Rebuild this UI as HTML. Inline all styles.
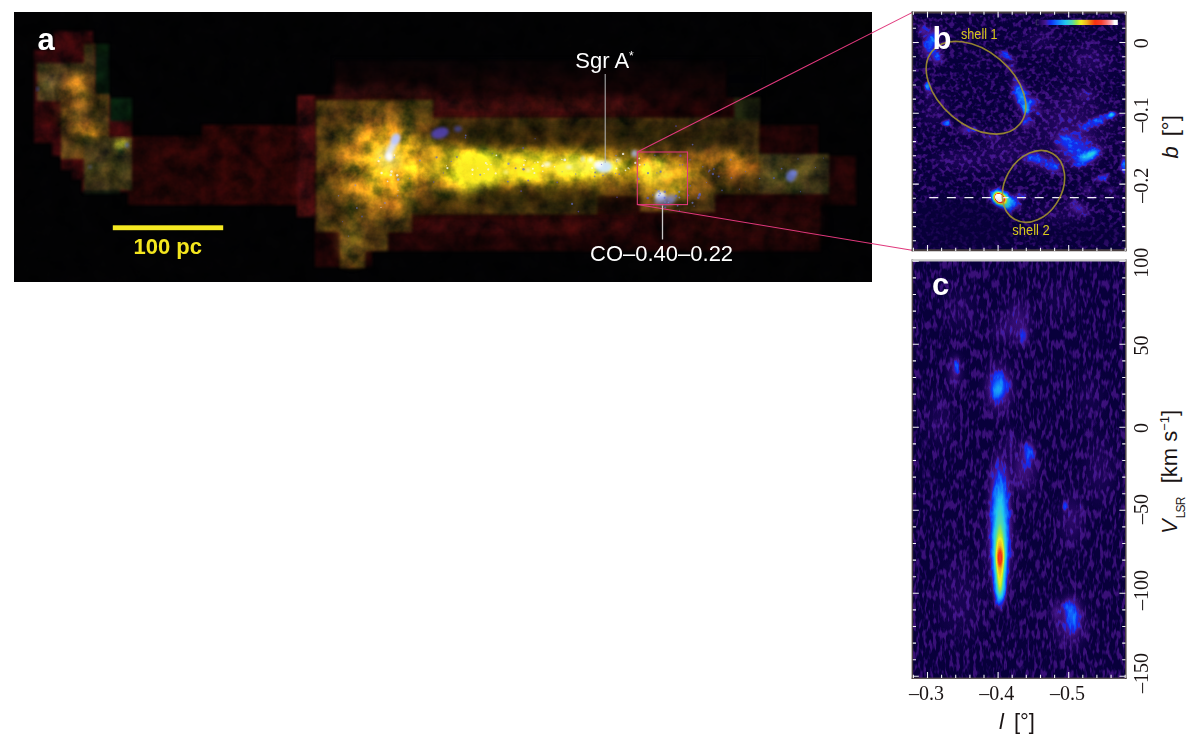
<!DOCTYPE html>
<html><head><meta charset="utf-8"><title>Figure</title>
<style>html,body{margin:0;padding:0;background:#fff;overflow:hidden}svg{display:block;position:absolute;left:0;top:0}text{font-family:"Liberation Sans",sans-serif}.se{font-family:"Liberation Serif",serif;font-size:20px;fill:#1a1414}.sa{font-family:"Liberation Sans",sans-serif;fill:#1a1414}</style></head><body>
<svg width="1199" height="750" viewBox="0 0 1199 750" color-interpolation-filters="sRGB">
<defs>
<clipPath id="ca"><rect x="14.3" y="12.7" width="857.7" height="269.1"/></clipPath>
<clipPath id="cb"><rect x="912.5" y="12.5" width="213" height="238"/></clipPath>
<clipPath id="cc"><rect x="912.5" y="260.5" width="213" height="417.5"/></clipPath>
<linearGradient id="cbar" x1="0" x2="1" y1="0" y2="0">
<stop offset="0.0" stop-color="rgb(9,0,60)"/>
<stop offset="0.045" stop-color="rgb(32,6,92)"/>
<stop offset="0.09" stop-color="rgb(60,17,122)"/>
<stop offset="0.12" stop-color="rgb(70,26,150)"/>
<stop offset="0.15" stop-color="rgb(42,36,208)"/>
<stop offset="0.18" stop-color="rgb(16,44,240)"/>
<stop offset="0.25" stop-color="rgb(16,110,255)"/>
<stop offset="0.36" stop-color="rgb(32,200,240)"/>
<stop offset="0.44" stop-color="rgb(80,216,176)"/>
<stop offset="0.5" stop-color="rgb(160,232,64)"/>
<stop offset="0.55" stop-color="rgb(240,240,32)"/>
<stop offset="0.62" stop-color="rgb(240,176,32)"/>
<stop offset="0.67" stop-color="rgb(240,112,16)"/>
<stop offset="0.72" stop-color="rgb(248,48,16)"/>
<stop offset="0.8" stop-color="rgb(248,64,48)"/>
<stop offset="0.86" stop-color="rgb(248,112,112)"/>
<stop offset="0.92" stop-color="rgb(248,176,192)"/>
<stop offset="0.96" stop-color="rgb(255,255,255)"/>
<stop offset="1.0" stop-color="rgb(255,255,255)"/>
</linearGradient>
<radialGradient id="g"><stop offset="0" stop-color="#fff" stop-opacity="1"/><stop offset="0.25" stop-color="#fff" stop-opacity="0.8"/><stop offset="0.5" stop-color="#fff" stop-opacity="0.42"/><stop offset="0.75" stop-color="#fff" stop-opacity="0.12"/><stop offset="1" stop-color="#fff" stop-opacity="0"/></radialGradient>
<filter id="fb" filterUnits="userSpaceOnUse" x="912" y="11" width="215" height="241">
<feTurbulence type="fractalNoise" baseFrequency="0.22 0.22" numOctaves="2" seed="7" result="t"/>
<feColorMatrix in="t" type="matrix" values="4.773 0 0 0 -2.273  4.773 0 0 0 -2.273  4.773 0 0 0 -2.273  0 0 0 0 1" result="n0"/>
<feComponentTransfer in="n0" result="n"><feFuncR type="linear" slope="0.088"/><feFuncG type="linear" slope="0.088"/><feFuncB type="linear" slope="0.088"/></feComponentTransfer>
<feComponentTransfer in="SourceGraphic" result="m"><feFuncR type="linear" slope="-1.2" intercept="1"/><feFuncG type="linear" slope="-1.2" intercept="1"/><feFuncB type="linear" slope="-1.2" intercept="1"/></feComponentTransfer>
<feComposite in="m" in2="n" operator="arithmetic" k1="1" k2="0" k3="0" k4="0" result="nm"/>
<feComposite in="SourceGraphic" in2="nm" operator="arithmetic" k1="0" k2="1" k3="1" k4="0" result="s"/>
<feComponentTransfer in="s"><feFuncR type="table" tableValues="0.035 0.055 0.075 0.095 0.115 0.138 0.162 0.186 0.211 0.235 0.248 0.261 0.275 0.238 0.201 0.165 0.131 0.097 0.063 0.063 0.063 0.063 0.063 0.063 0.063 0.063 0.068 0.074 0.080 0.086 0.091 0.097 0.103 0.108 0.114 0.120 0.125 0.149 0.173 0.196 0.220 0.243 0.267 0.290 0.314 0.366 0.418 0.471 0.523 0.575 0.627 0.690 0.753 0.816 0.878 0.941 0.941 0.941 0.941 0.941 0.941 0.941 0.941 0.941 0.941 0.941 0.941 0.941 0.947 0.954 0.960 0.966 0.973 0.973 0.973 0.973 0.973 0.973 0.973 0.973 0.973 0.973 0.973 0.973 0.973 0.973 0.973 0.973 0.973 0.973 0.973 0.973 0.973 0.979 0.986 0.993 1.000 1.000 1.000 1.000 1.000"/><feFuncG type="table" tableValues="0.000 0.005 0.010 0.016 0.021 0.028 0.038 0.047 0.057 0.067 0.078 0.090 0.102 0.115 0.128 0.141 0.152 0.162 0.173 0.210 0.246 0.283 0.320 0.357 0.394 0.431 0.463 0.496 0.528 0.560 0.592 0.624 0.656 0.688 0.720 0.752 0.784 0.792 0.800 0.808 0.816 0.824 0.831 0.839 0.847 0.858 0.868 0.878 0.889 0.899 0.910 0.916 0.922 0.929 0.935 0.941 0.905 0.869 0.834 0.798 0.762 0.726 0.690 0.640 0.590 0.540 0.489 0.439 0.389 0.339 0.289 0.238 0.188 0.196 0.204 0.212 0.220 0.227 0.235 0.243 0.251 0.282 0.314 0.345 0.376 0.408 0.439 0.481 0.523 0.565 0.607 0.648 0.690 0.768 0.845 0.923 1.000 1.000 1.000 1.000 1.000"/><feFuncB type="table" tableValues="0.235 0.263 0.291 0.319 0.347 0.374 0.400 0.426 0.452 0.478 0.515 0.552 0.588 0.664 0.740 0.816 0.858 0.899 0.941 0.950 0.958 0.966 0.975 0.983 0.992 1.000 0.995 0.989 0.984 0.979 0.973 0.968 0.963 0.957 0.952 0.947 0.941 0.910 0.878 0.847 0.816 0.784 0.753 0.722 0.690 0.617 0.544 0.471 0.397 0.324 0.251 0.226 0.201 0.176 0.151 0.125 0.125 0.125 0.125 0.125 0.125 0.125 0.125 0.113 0.100 0.088 0.075 0.063 0.063 0.063 0.063 0.063 0.063 0.078 0.094 0.110 0.125 0.141 0.157 0.173 0.188 0.230 0.272 0.314 0.356 0.397 0.439 0.492 0.544 0.596 0.648 0.701 0.753 0.815 0.876 0.938 1.000 1.000 1.000 1.000 1.000"/><feFuncA type="linear" slope="0" intercept="1"/></feComponentTransfer>
</filter>
<filter id="fc" filterUnits="userSpaceOnUse" x="912" y="259" width="215" height="420">
<feTurbulence type="fractalNoise" baseFrequency="0.30 0.10" numOctaves="2" seed="11" result="t"/>
<feColorMatrix in="t" type="matrix" values="4.773 0 0 0 -2.216  4.773 0 0 0 -2.216  4.773 0 0 0 -2.216  0 0 0 0 1" result="n0"/>
<feComponentTransfer in="n0" result="n"><feFuncR type="linear" slope="0.088"/><feFuncG type="linear" slope="0.088"/><feFuncB type="linear" slope="0.088"/></feComponentTransfer>
<feComponentTransfer in="SourceGraphic" result="m"><feFuncR type="linear" slope="-2.2" intercept="1"/><feFuncG type="linear" slope="-2.2" intercept="1"/><feFuncB type="linear" slope="-2.2" intercept="1"/></feComponentTransfer>
<feComposite in="m" in2="n" operator="arithmetic" k1="1" k2="0" k3="0" k4="0" result="nm"/>
<feComposite in="SourceGraphic" in2="nm" operator="arithmetic" k1="0" k2="1" k3="1" k4="0" result="s"/>
<feComponentTransfer in="s"><feFuncR type="table" tableValues="0.035 0.055 0.075 0.095 0.115 0.138 0.162 0.186 0.211 0.235 0.248 0.261 0.275 0.238 0.201 0.165 0.131 0.097 0.063 0.063 0.063 0.063 0.063 0.063 0.063 0.063 0.068 0.074 0.080 0.086 0.091 0.097 0.103 0.108 0.114 0.120 0.125 0.149 0.173 0.196 0.220 0.243 0.267 0.290 0.314 0.366 0.418 0.471 0.523 0.575 0.627 0.690 0.753 0.816 0.878 0.941 0.941 0.941 0.941 0.941 0.941 0.941 0.941 0.941 0.941 0.941 0.941 0.941 0.947 0.954 0.960 0.966 0.973 0.973 0.973 0.973 0.973 0.973 0.973 0.973 0.973 0.973 0.973 0.973 0.973 0.973 0.973 0.973 0.973 0.973 0.973 0.973 0.973 0.979 0.986 0.993 1.000 1.000 1.000 1.000 1.000"/><feFuncG type="table" tableValues="0.000 0.005 0.010 0.016 0.021 0.028 0.038 0.047 0.057 0.067 0.078 0.090 0.102 0.115 0.128 0.141 0.152 0.162 0.173 0.210 0.246 0.283 0.320 0.357 0.394 0.431 0.463 0.496 0.528 0.560 0.592 0.624 0.656 0.688 0.720 0.752 0.784 0.792 0.800 0.808 0.816 0.824 0.831 0.839 0.847 0.858 0.868 0.878 0.889 0.899 0.910 0.916 0.922 0.929 0.935 0.941 0.905 0.869 0.834 0.798 0.762 0.726 0.690 0.640 0.590 0.540 0.489 0.439 0.389 0.339 0.289 0.238 0.188 0.196 0.204 0.212 0.220 0.227 0.235 0.243 0.251 0.282 0.314 0.345 0.376 0.408 0.439 0.481 0.523 0.565 0.607 0.648 0.690 0.768 0.845 0.923 1.000 1.000 1.000 1.000 1.000"/><feFuncB type="table" tableValues="0.235 0.263 0.291 0.319 0.347 0.374 0.400 0.426 0.452 0.478 0.515 0.552 0.588 0.664 0.740 0.816 0.858 0.899 0.941 0.950 0.958 0.966 0.975 0.983 0.992 1.000 0.995 0.989 0.984 0.979 0.973 0.968 0.963 0.957 0.952 0.947 0.941 0.910 0.878 0.847 0.816 0.784 0.753 0.722 0.690 0.617 0.544 0.471 0.397 0.324 0.251 0.226 0.201 0.176 0.151 0.125 0.125 0.125 0.125 0.125 0.125 0.125 0.125 0.113 0.100 0.088 0.075 0.063 0.063 0.063 0.063 0.063 0.063 0.078 0.094 0.110 0.125 0.141 0.157 0.173 0.188 0.230 0.272 0.314 0.356 0.397 0.439 0.492 0.544 0.596 0.648 0.701 0.753 0.815 0.876 0.938 1.000 1.000 1.000 1.000 1.000"/><feFuncA type="linear" slope="0" intercept="1"/></feComponentTransfer>
</filter>
<linearGradient id="fadeT" x1="0" x2="0" y1="0" y2="1"><stop offset="0" stop-color="#020203" stop-opacity="0.85"/><stop offset="0.55" stop-color="#020203" stop-opacity="0.5"/><stop offset="1" stop-color="#020203" stop-opacity="0"/></linearGradient>
<filter id="bl1" x="-20%" y="-20%" width="140%" height="140%"><feGaussianBlur stdDeviation="1.5"/></filter>
<filter id="bl05" x="-5%" y="-20%" width="110%" height="140%"><feGaussianBlur stdDeviation="0.6"/></filter>
<filter id="bl3" x="-30%" y="-30%" width="160%" height="160%"><feGaussianBlur stdDeviation="3"/></filter>
<filter id="bl6" x="-40%" y="-40%" width="180%" height="180%"><feGaussianBlur stdDeviation="6"/></filter>
<filter id="bl10" x="-50%" y="-50%" width="200%" height="200%"><feGaussianBlur stdDeviation="10"/></filter>
<filter id="na" filterUnits="userSpaceOnUse" x="14" y="12" width="859" height="271">
<feTurbulence type="fractalNoise" baseFrequency="0.055 0.055" numOctaves="4" seed="5" result="t"/>
<feColorMatrix in="t" type="matrix" values="1 0 0 0 0  0.8 0.2 0 0 0  0.7 0 0.3 0 0  0 0 0 0 1" result="n"/>
<feComposite in="SourceGraphic" in2="n" operator="arithmetic" k1="1.9" k2="0.05" k3="0" k4="0"/>
</filter>
</defs>
<rect x="14.3" y="12.7" width="857.7" height="269.1" fill="#020203"/>
<g clip-path="url(#ca)"><g filter="url(#na)">
<rect x="14" y="12" width="859" height="271" fill="#020203"/>
<g filter="url(#bl1)">
<path d="M54 31 L93 31 L93 44 L109 44 L109 98 L132 98 L132 192 L82 192 L82 179 L72 179 L72 170 L61 170 L61 156 L52 156 L52 143 L34 143 L34 50 L54 50Z" fill="#30070a" opacity="1"/>
<rect x="128" y="136" width="75" height="69" fill="#220505" opacity="1"/>
<rect x="202" y="125" width="96" height="80" fill="#260505" opacity="1"/>
<rect x="297" y="95" width="20" height="122" fill="#380a0c" opacity="1"/>
<path d="M315 95 L335 95 L335 61 L726 61 L726 98 L759 98 L759 125 L818 125 L818 156 L856 156 L856 205 L820 205 L820 251 L372 251 L372 267 L315 267Z" fill="#1c0405" opacity="1"/>
<rect x="335" y="84" width="97" height="16" fill="#40100f" opacity="0.7" filter="url(#bl3)"/>
<rect x="432" y="96" width="208" height="22" fill="#400e0e" opacity="0.7" filter="url(#bl3)"/>
<rect x="380" y="74" width="180" height="18" fill="#2a0808" opacity="0.4" filter="url(#bl6)"/>
<rect x="412" y="216" width="228" height="18" fill="#360a0b" opacity="0.6" filter="url(#bl3)"/>
<rect x="667" y="212" width="153" height="28" fill="#2c0808" opacity="0.5" filter="url(#bl6)"/>
<rect x="333" y="58" width="430" height="46" fill="url(#fadeT)"/>
<rect x="95" y="44" width="14" height="52" fill="#06170a" opacity="1"/>
<rect x="110" y="98" width="22" height="23" fill="#061a0b" opacity="1"/>
<rect x="109" y="121" width="23" height="16" fill="#30080a" opacity="1"/>
</g>
<g filter="url(#bl1)">
<path d="M316 100 L433 100 L433 118 L759 118 L759 154 L829 154 L829 176 L806 176 L806 194 L715 194 L715 212 L640 212 L640 196 L597 196 L597 214 L412 214 L412 232 L388 232 L388 251 L365 251 L365 268 L340 268 L340 232 L316 232Z" fill="#47330f" opacity="1"/>
<rect x="690" y="118" width="69" height="36" fill="#3a2c12" opacity="0.8"/>
<rect x="734" y="98" width="26" height="23" fill="#18200e" opacity="0.9"/>
<rect x="759" y="154" width="70" height="40" fill="#38361a" opacity="0.75"/>
<rect x="403" y="100" width="30" height="24" fill="#43360f" opacity="0.8"/>
<rect x="37" y="63" width="48" height="38" fill="#46381a" opacity="0.95"/>
<rect x="84" y="44" width="11" height="51" fill="#3a3014" opacity="0.9"/>
<rect x="61" y="94" width="48" height="65" fill="#4e3a14" opacity="0.95"/>
<rect x="84" y="137" width="48" height="53" fill="#3a3416" opacity="0.95"/>
<rect x="84" y="190" width="36" height="4" fill="#0a1a0c" opacity="0.8"/>
</g>
<ellipse cx="76" cy="88" rx="11" ry="16" fill="#c27c1c" opacity="0.8" filter="url(#bl6)" transform="rotate(-20 76 88)"/>
<ellipse cx="88" cy="130" rx="13" ry="7" fill="#c47c1a" opacity="0.75" filter="url(#bl3)" transform="rotate(28 88 130)"/>
<ellipse cx="72" cy="112" rx="12" ry="18" fill="#94601a" opacity="0.5" filter="url(#bl6)" transform="rotate(-15 72 112)"/>
<ellipse cx="121.5" cy="146" rx="6" ry="6" fill="#d8d234" opacity="0.9" filter="url(#bl3)"/>
<ellipse cx="50" cy="83" rx="8" ry="9" fill="#807834" opacity="0.5" filter="url(#bl3)"/>
<ellipse cx="100" cy="165" rx="12" ry="10" fill="#5c501c" opacity="0.5" filter="url(#bl6)"/>
<ellipse cx="382" cy="165" rx="46" ry="50" fill="#c88c1c" opacity="0.85" filter="url(#bl10)"/>
<ellipse cx="392" cy="162" rx="30" ry="28" fill="#f0bc20" opacity="0.8" filter="url(#bl6)"/>
<ellipse cx="389" cy="158" rx="11" ry="11" fill="#fff48c" opacity="0.9" filter="url(#bl3)"/>
<ellipse cx="352" cy="240" rx="12" ry="22" fill="#7a601c" opacity="0.7" filter="url(#bl6)"/>
<ellipse cx="540" cy="167" rx="120" ry="18" fill="#d8a818" opacity="0.8" filter="url(#bl10)"/>
<ellipse cx="462" cy="188" rx="32" ry="15" fill="#c8a020" opacity="0.6" filter="url(#bl6)"/>
<ellipse cx="525" cy="168" rx="100" ry="13" fill="#f8e020" opacity="0.9" filter="url(#bl6)"/>
<ellipse cx="475" cy="170" rx="28" ry="20" fill="#fff428" opacity="0.95" filter="url(#bl6)"/>
<ellipse cx="585" cy="166" rx="40" ry="8" fill="#fff040" opacity="0.8" filter="url(#bl3)"/>
<ellipse cx="440" cy="152" rx="28" ry="16" fill="#e8c020" opacity="0.45" filter="url(#bl6)"/>
<ellipse cx="665" cy="178" rx="32" ry="22" fill="#d8a41c" opacity="0.8" filter="url(#bl6)"/>
<ellipse cx="655" cy="170" rx="15" ry="13" fill="#f4dc30" opacity="0.75" filter="url(#bl3)"/>
<ellipse cx="722" cy="163" rx="38" ry="13" fill="#b87418" opacity="0.7" filter="url(#bl6)"/>
<ellipse cx="700" cy="185" rx="20" ry="8" fill="#94601a" opacity="0.5" filter="url(#bl6)"/>
<ellipse cx="790" cy="176" rx="26" ry="10" fill="#6c6424" opacity="0.5" filter="url(#bl6)"/>
<ellipse cx="590" cy="133" rx="150" ry="9" fill="#2c2208" opacity="0.6" filter="url(#bl6)"/>
<rect x="434" y="118" width="324" height="28" fill="#1c1606" opacity="0.4" filter="url(#bl3)"/>
<rect x="414" y="194" width="224" height="20" fill="#1c1606" opacity="0.35" filter="url(#bl3)"/>
<ellipse cx="520" cy="198" rx="90" ry="10" fill="#2a2208" opacity="0.6" filter="url(#bl6)"/>
</g>
<ellipse cx="476" cy="170" rx="17" ry="15" fill="#fff020" opacity="0.8" filter="url(#bl6)"/>
<ellipse cx="520" cy="169" rx="70" ry="9" fill="#f8e424" opacity="0.6" filter="url(#bl6)" transform="rotate(-1.5 520 169)"/>
<ellipse cx="585" cy="166" rx="30" ry="5" fill="#fff458" opacity="0.55" filter="url(#bl3)" transform="rotate(-2 585 166)"/>
<ellipse cx="390" cy="158" rx="14" ry="14" fill="#f8d428" opacity="0.6" filter="url(#bl6)"/>
<ellipse cx="440" cy="160" rx="18" ry="12" fill="#f0c820" opacity="0.35" filter="url(#bl6)"/>
<ellipse cx="660" cy="180" rx="18" ry="14" fill="#e8c028" opacity="0.35" filter="url(#bl6)"/>
<ellipse cx="547" cy="164.5" rx="4" ry="2.4" fill="#ffffff" opacity="0.8" filter="url(#bl1)" transform="rotate(-10 547 164.5)"/>
<ellipse cx="569" cy="167" rx="3" ry="1.8" fill="#eef2ff" opacity="0.8" filter="url(#bl1)"/>
<ellipse cx="528" cy="170" rx="2.4" ry="1.8" fill="#ffffff" opacity="0.7" filter="url(#bl1)"/>
<ellipse cx="583" cy="159" rx="1.8" ry="2.8" fill="#dde8ff" opacity="0.8" filter="url(#bl1)"/>
<ellipse cx="506" cy="172" rx="2.2" ry="1.6" fill="#fffff0" opacity="0.7" filter="url(#bl1)"/>
<ellipse cx="618" cy="160" rx="2.2" ry="1.6" fill="#e8eeff" opacity="0.75" filter="url(#bl1)"/>
<ellipse cx="392" cy="147" rx="13" ry="3.6" fill="#dde6ff" opacity="0.85" filter="url(#bl1)" transform="rotate(-62 392 147)"/>
<ellipse cx="395.5" cy="139" rx="4.5" ry="6" fill="#b8c4ff" opacity="0.9" filter="url(#bl1)" transform="rotate(25 395.5 139)"/>
<ellipse cx="389.5" cy="157" rx="4" ry="4.5" fill="#ffffff" opacity="0.95" filter="url(#bl1)"/>
<ellipse cx="603.8" cy="166.8" rx="8.5" ry="6" fill="#cfe6ff" opacity="0.95" filter="url(#bl1)"/>
<ellipse cx="598" cy="164.5" rx="4.5" ry="3.2" fill="#ffffff" opacity="0.9" filter="url(#bl1)"/>
<ellipse cx="590.5" cy="160" rx="2.5" ry="2.5" fill="#ffffff" opacity="0.85" filter="url(#bl1)"/>
<ellipse cx="634.5" cy="153.5" rx="3" ry="3.6" fill="#a8b8f0" opacity="0.8" filter="url(#bl1)"/>
<ellipse cx="660.5" cy="196" rx="5.5" ry="4.8" fill="#e4ecff" opacity="0.95" filter="url(#bl1)"/>
<ellipse cx="664" cy="201" rx="10" ry="5" fill="#6878e0" opacity="0.55" filter="url(#bl1)"/>
<ellipse cx="672" cy="198" rx="5" ry="4" fill="#8090e8" opacity="0.5" filter="url(#bl1)"/>
<ellipse cx="791" cy="176" rx="5" ry="6" fill="#6070d8" opacity="0.8" filter="url(#bl1)" transform="rotate(20 791 176)"/>
<ellipse cx="794" cy="173" rx="3.5" ry="3" fill="#7484e0" opacity="0.7" filter="url(#bl1)"/>
<ellipse cx="440" cy="133" rx="9" ry="5.5" fill="#5a48c8" opacity="0.8" filter="url(#bl1)" transform="rotate(-15 440 133)"/>
<ellipse cx="458" cy="129" rx="4" ry="3" fill="#4850c0" opacity="0.6" filter="url(#bl1)"/>
<ellipse cx="127" cy="145" rx="1.6" ry="2.6" fill="#5068d8" opacity="0.8" filter="url(#bl1)"/>
<ellipse cx="37.5" cy="89" rx="1.3" ry="2" fill="#5060d0" opacity="0.7" filter="url(#bl1)"/>
<ellipse cx="90" cy="167" rx="1.6" ry="1.6" fill="#6070d0" opacity="0.6" filter="url(#bl1)"/>
<g filter="url(#bl05)"><circle cx="534.9" cy="162.8" r="0.6" fill="#ffffff" opacity="0.75"/><circle cx="639.3" cy="158.4" r="0.9" fill="#fffde0" opacity="0.75"/><circle cx="602.1" cy="163.0" r="1.0" fill="#fffde0" opacity="0.75"/><circle cx="564.8" cy="159.9" r="1.4" fill="#eef4ff" opacity="0.75"/><circle cx="472.5" cy="169.7" r="1.2" fill="#ffffff" opacity="0.75"/><circle cx="542.7" cy="165.8" r="1.2" fill="#fffde0" opacity="0.75"/><circle cx="520.9" cy="167.8" r="0.6" fill="#fffde0" opacity="0.75"/><circle cx="541.8" cy="166.0" r="0.6" fill="#eef4ff" opacity="0.75"/><circle cx="629.3" cy="168.8" r="0.6" fill="#eef4ff" opacity="0.75"/><circle cx="616.4" cy="168.5" r="1.0" fill="#fffde0" opacity="0.75"/><circle cx="617.1" cy="159.5" r="0.6" fill="#fffde0" opacity="0.75"/><circle cx="523.8" cy="165.1" r="1.0" fill="#eef4ff" opacity="0.75"/><circle cx="561.9" cy="159.4" r="0.6" fill="#ffffff" opacity="0.75"/><circle cx="635.3" cy="162.9" r="1.1" fill="#eef4ff" opacity="0.75"/><circle cx="628.2" cy="168.1" r="0.8" fill="#eef4ff" opacity="0.75"/><circle cx="487.0" cy="164.3" r="0.8" fill="#fffde0" opacity="0.75"/><circle cx="554.6" cy="166.8" r="0.8" fill="#eef4ff" opacity="0.75"/><circle cx="446.5" cy="165.7" r="0.5" fill="#fffde0" opacity="0.75"/><circle cx="525.4" cy="160.6" r="0.6" fill="#fffde0" opacity="0.75"/><circle cx="484.1" cy="173.6" r="0.6" fill="#eef4ff" opacity="0.75"/><circle cx="447.4" cy="168.1" r="1.1" fill="#ffffff" opacity="0.75"/><circle cx="542.8" cy="171.3" r="0.8" fill="#eef4ff" opacity="0.75"/><circle cx="496.4" cy="155.3" r="0.9" fill="#ffffff" opacity="0.75"/><circle cx="532.9" cy="168.8" r="1.0" fill="#ffffff" opacity="0.75"/><circle cx="477.8" cy="168.1" r="0.5" fill="#eef4ff" opacity="0.75"/><circle cx="623.1" cy="153.9" r="1.2" fill="#ffffff" opacity="0.75"/><circle cx="488.3" cy="169.4" r="1.1" fill="#eef4ff" opacity="0.75"/><circle cx="639.7" cy="164.7" r="1.0" fill="#ffffff" opacity="0.75"/><circle cx="625.5" cy="170.4" r="0.8" fill="#ffffff" opacity="0.75"/><circle cx="485.9" cy="163.0" r="1.0" fill="#eef4ff" opacity="0.75"/><circle cx="537.9" cy="162.2" r="0.9" fill="#fffde0" opacity="0.75"/><circle cx="472.4" cy="174.3" r="0.8" fill="#ffffff" opacity="0.75"/><circle cx="495.7" cy="173.4" r="1.1" fill="#fffde0" opacity="0.75"/><circle cx="598.4" cy="163.4" r="1.2" fill="#fffde0" opacity="0.75"/><circle cx="491.0" cy="164.7" r="0.6" fill="#eef4ff" opacity="0.75"/><circle cx="524.1" cy="160.1" r="0.7" fill="#eef4ff" opacity="0.75"/><circle cx="534.4" cy="173.0" r="1.1" fill="#eef4ff" opacity="0.75"/><circle cx="592.1" cy="168.0" r="0.9" fill="#fffde0" opacity="0.75"/><circle cx="456.9" cy="157.0" r="0.9" fill="#5a50d0" opacity="0.6"/><circle cx="603.0" cy="175.5" r="0.8" fill="#4c5ce0" opacity="0.6"/><circle cx="436.6" cy="157.3" r="1.1" fill="#4c5ce0" opacity="0.6"/><circle cx="676.0" cy="126.1" r="0.9" fill="#5a50d0" opacity="0.6"/><circle cx="644.4" cy="164.8" r="0.7" fill="#6878e8" opacity="0.6"/><circle cx="616.0" cy="155.5" r="0.8" fill="#6878e8" opacity="0.6"/><circle cx="465.4" cy="137.7" r="0.8" fill="#4c5ce0" opacity="0.6"/><circle cx="451.2" cy="161.4" r="0.7" fill="#4c5ce0" opacity="0.6"/><circle cx="615.7" cy="173.5" r="0.7" fill="#6878e8" opacity="0.6"/><circle cx="480.2" cy="174.8" r="1.0" fill="#6878e8" opacity="0.6"/><circle cx="682.5" cy="164.7" r="0.8" fill="#5a50d0" opacity="0.6"/><circle cx="562.1" cy="171.7" r="0.5" fill="#6878e8" opacity="0.6"/><circle cx="523.5" cy="169.3" r="1.2" fill="#4c5ce0" opacity="0.6"/><circle cx="690.3" cy="185.8" r="0.8" fill="#4c5ce0" opacity="0.6"/><circle cx="616.5" cy="161.1" r="0.6" fill="#6878e8" opacity="0.6"/><circle cx="521.1" cy="191.1" r="0.9" fill="#5a50d0" opacity="0.6"/><circle cx="594.6" cy="176.4" r="0.8" fill="#4c5ce0" opacity="0.6"/><circle cx="654.9" cy="155.3" r="0.7" fill="#6878e8" opacity="0.6"/><circle cx="619.3" cy="174.3" r="0.8" fill="#4c5ce0" opacity="0.6"/><circle cx="692.6" cy="144.6" r="0.9" fill="#6878e8" opacity="0.6"/><circle cx="515.6" cy="168.3" r="1.0" fill="#5a50d0" opacity="0.6"/><circle cx="601.5" cy="164.3" r="0.6" fill="#5a50d0" opacity="0.6"/><circle cx="492.5" cy="153.4" r="0.5" fill="#5a50d0" opacity="0.6"/><circle cx="508.5" cy="163.8" r="1.2" fill="#6878e8" opacity="0.6"/><circle cx="507.8" cy="181.6" r="0.9" fill="#4c5ce0" opacity="0.6"/><circle cx="465.7" cy="135.4" r="0.9" fill="#6878e8" opacity="0.6"/><circle cx="595.1" cy="172.4" r="0.9" fill="#5a50d0" opacity="0.6"/><circle cx="523.1" cy="147.9" r="1.0" fill="#5a50d0" opacity="0.6"/><circle cx="535.1" cy="138.7" r="0.6" fill="#4c5ce0" opacity="0.6"/><circle cx="656.0" cy="189.4" r="0.6" fill="#5a50d0" opacity="0.6"/><circle cx="572.1" cy="203.9" r="1.1" fill="#6878e8" opacity="0.6"/><circle cx="528.2" cy="180.4" r="1.0" fill="#5a50d0" opacity="0.6"/><circle cx="638.6" cy="178.9" r="1.1" fill="#6878e8" opacity="0.6"/><circle cx="667.8" cy="154.6" r="0.5" fill="#5a50d0" opacity="0.6"/><circle cx="443.4" cy="172.9" r="0.6" fill="#5a50d0" opacity="0.6"/><circle cx="680.4" cy="155.7" r="1.2" fill="#5a50d0" opacity="0.6"/><circle cx="578.4" cy="211.6" r="0.8" fill="#5a50d0" opacity="0.6"/><circle cx="575.7" cy="174.0" r="0.8" fill="#6878e8" opacity="0.6"/><circle cx="433.7" cy="182.0" r="0.8" fill="#5a50d0" opacity="0.6"/><circle cx="557.2" cy="182.3" r="0.9" fill="#5a50d0" opacity="0.6"/><circle cx="660.6" cy="171.7" r="1.1" fill="#4c5ce0" opacity="0.6"/><circle cx="679.9" cy="165.0" r="0.8" fill="#5a50d0" opacity="0.6"/><circle cx="617.0" cy="197.2" r="0.8" fill="#5a50d0" opacity="0.6"/><circle cx="690.0" cy="159.8" r="0.8" fill="#4c5ce0" opacity="0.6"/><circle cx="656.9" cy="172.9" r="0.6" fill="#4c5ce0" opacity="0.6"/><circle cx="648.0" cy="173.2" r="1.1" fill="#4c5ce0" opacity="0.6"/><circle cx="647.7" cy="198.0" r="1.3" fill="#4c5ce0" opacity="0.6"/><circle cx="699.8" cy="193.9" r="1.2" fill="#5868e0" opacity="0.6"/><circle cx="679.2" cy="191.8" r="1.1" fill="#7888f0" opacity="0.6"/><circle cx="688.4" cy="195.4" r="0.9" fill="#4c5ce0" opacity="0.6"/><circle cx="692.5" cy="202.8" r="1.1" fill="#7888f0" opacity="0.6"/><circle cx="699.4" cy="195.3" r="1.4" fill="#4c5ce0" opacity="0.6"/><circle cx="698.3" cy="197.7" r="1.3" fill="#4c5ce0" opacity="0.6"/><circle cx="653.7" cy="204.8" r="0.8" fill="#5868e0" opacity="0.6"/><circle cx="658.8" cy="191.3" r="1.2" fill="#7888f0" opacity="0.6"/><circle cx="665.0" cy="202.1" r="0.8" fill="#7888f0" opacity="0.6"/><circle cx="665.2" cy="207.5" r="1.1" fill="#5868e0" opacity="0.6"/><circle cx="658.9" cy="195.5" r="0.8" fill="#4c5ce0" opacity="0.6"/><circle cx="677.6" cy="205.7" r="0.9" fill="#7888f0" opacity="0.6"/><circle cx="660.1" cy="193.4" r="0.9" fill="#5868e0" opacity="0.6"/><circle cx="652.7" cy="195.0" r="0.8" fill="#5868e0" opacity="0.6"/><circle cx="679.4" cy="197.4" r="1.0" fill="#7888f0" opacity="0.6"/><circle cx="664.8" cy="191.8" r="1.3" fill="#4c5ce0" opacity="0.6"/><circle cx="679.5" cy="210.3" r="0.6" fill="#4c5ce0" opacity="0.6"/><circle cx="668.4" cy="202.5" r="0.8" fill="#7888f0" opacity="0.6"/><circle cx="694.1" cy="206.1" r="0.6" fill="#7888f0" opacity="0.6"/><circle cx="664.6" cy="197.7" r="1.0" fill="#4c5ce0" opacity="0.6"/><circle cx="676.1" cy="196.0" r="1.3" fill="#4c5ce0" opacity="0.6"/><circle cx="712.9" cy="174.0" r="1.2" fill="#6070e0" opacity="0.55"/><circle cx="722.0" cy="190.4" r="0.8" fill="#6070e0" opacity="0.55"/><circle cx="708.6" cy="171.8" r="0.7" fill="#5060d8" opacity="0.55"/><circle cx="781.6" cy="168.6" r="0.9" fill="#6070e0" opacity="0.55"/><circle cx="795.2" cy="172.2" r="0.8" fill="#6070e0" opacity="0.55"/><circle cx="759.6" cy="178.5" r="0.8" fill="#5060d8" opacity="0.55"/><circle cx="730.6" cy="159.7" r="0.9" fill="#6070e0" opacity="0.55"/><circle cx="745.5" cy="171.6" r="0.7" fill="#5060d8" opacity="0.55"/><circle cx="709.5" cy="170.4" r="1.0" fill="#6070e0" opacity="0.55"/><circle cx="815.5" cy="167.5" r="0.6" fill="#6070e0" opacity="0.55"/><circle cx="773.9" cy="178.1" r="1.1" fill="#5060d8" opacity="0.55"/><circle cx="706.5" cy="182.5" r="0.6" fill="#6070e0" opacity="0.55"/><circle cx="731.4" cy="177.8" r="0.9" fill="#6070e0" opacity="0.55"/><circle cx="739.4" cy="189.2" r="0.6" fill="#5060d8" opacity="0.55"/><circle cx="718.7" cy="176.5" r="1.1" fill="#6070e0" opacity="0.55"/><circle cx="800.5" cy="191.7" r="0.6" fill="#5060d8" opacity="0.55"/><circle cx="798.0" cy="158.9" r="0.7" fill="#6070e0" opacity="0.55"/><circle cx="713.9" cy="168.9" r="0.9" fill="#5060d8" opacity="0.55"/><circle cx="823.4" cy="158.1" r="0.5" fill="#6070e0" opacity="0.55"/><circle cx="702.8" cy="166.8" r="0.8" fill="#6070e0" opacity="0.55"/><circle cx="398.2" cy="179.5" r="1.3" fill="#a0b0ff" opacity="0.7"/><circle cx="391.5" cy="171.5" r="1.3" fill="#ffffff" opacity="0.7"/><circle cx="387.6" cy="181.3" r="0.9" fill="#e8f0ff" opacity="0.7"/><circle cx="378.6" cy="161.1" r="1.2" fill="#ffffff" opacity="0.7"/><circle cx="394.3" cy="157.4" r="0.8" fill="#a0b0ff" opacity="0.7"/><circle cx="397.2" cy="175.3" r="1.2" fill="#ffffff" opacity="0.7"/><circle cx="379.9" cy="157.7" r="0.8" fill="#a0b0ff" opacity="0.7"/><circle cx="394.6" cy="155.1" r="0.8" fill="#ffffff" opacity="0.7"/><circle cx="381.0" cy="207.3" r="0.6" fill="#ffffff" opacity="0.7"/><circle cx="381.6" cy="173.0" r="1.2" fill="#ffffff" opacity="0.7"/><circle cx="390.8" cy="174.9" r="1.3" fill="#e8f0ff" opacity="0.7"/><circle cx="398.0" cy="190.2" r="0.5" fill="#e8f0ff" opacity="0.7"/><circle cx="355.4" cy="185.3" r="1.0" fill="#7080e8" opacity="0.5"/><circle cx="397.6" cy="195.8" r="0.7" fill="#7080e8" opacity="0.5"/><circle cx="348.5" cy="236.1" r="0.7" fill="#7080e8" opacity="0.5"/><circle cx="338.5" cy="195.8" r="0.8" fill="#7080e8" opacity="0.5"/><circle cx="362.0" cy="216.5" r="1.0" fill="#5060d8" opacity="0.5"/><circle cx="356.9" cy="208.0" r="1.0" fill="#7080e8" opacity="0.5"/><circle cx="342.5" cy="221.6" r="0.6" fill="#5060d8" opacity="0.5"/><circle cx="409.6" cy="178.4" r="0.6" fill="#5060d8" opacity="0.5"/><circle cx="384.9" cy="203.0" r="1.1" fill="#7080e8" opacity="0.5"/><circle cx="419.9" cy="160.5" r="1.0" fill="#7080e8" opacity="0.5"/></g>
</g>
<g clip-path="url(#cb)"><g filter="url(#fb)">
<rect x="905" y="5" width="230" height="255" fill="#000"/>
<ellipse cx="931" cy="42" rx="12" ry="24" fill="url(#g)" opacity="0.24" transform="rotate(20 931 42)"/>
<ellipse cx="937" cy="57" rx="10" ry="12" fill="url(#g)" opacity="0.19"/>
<ellipse cx="923" cy="30" rx="9" ry="11" fill="url(#g)" opacity="0.13"/>
<ellipse cx="927.5" cy="86" rx="5.6" ry="6.7" fill="url(#g)" opacity="0.3"/>
<ellipse cx="929" cy="92" rx="8" ry="10" fill="url(#g)" opacity="0.09"/>
<ellipse cx="1006" cy="56" rx="13.4" ry="6.7" fill="url(#g)" opacity="0.2" transform="rotate(25 1006 56)"/>
<ellipse cx="1012" cy="68" rx="8" ry="10" fill="url(#g)" opacity="0.09"/>
<ellipse cx="1021" cy="96" rx="12" ry="27" fill="url(#g)" opacity="0.28" transform="rotate(-18 1021 96)"/>
<ellipse cx="1026.5" cy="109" rx="6.7" ry="10" fill="url(#g)" opacity="0.24"/>
<ellipse cx="1033" cy="102" rx="10" ry="10" fill="url(#g)" opacity="0.17"/>
<ellipse cx="1026" cy="122" rx="11" ry="11" fill="url(#g)" opacity="0.14"/>
<ellipse cx="1038" cy="112" rx="8" ry="7" fill="url(#g)" opacity="0.09"/>
<ellipse cx="947" cy="123" rx="6.7" ry="5.6" fill="url(#g)" opacity="0.27"/>
<ellipse cx="968" cy="130" rx="18" ry="7.8" fill="url(#g)" opacity="0.14"/>
<ellipse cx="990" cy="137" rx="12" ry="6" fill="url(#g)" opacity="0.08"/>
<ellipse cx="1111.5" cy="115" rx="8.5" ry="5" fill="url(#g)" opacity="0.36" transform="rotate(-20 1111.5 115)"/>
<ellipse cx="1098" cy="121" rx="16.8" ry="7.8" fill="url(#g)" opacity="0.2" transform="rotate(-20 1098 121)"/>
<ellipse cx="1085" cy="127" rx="11" ry="6.7" fill="url(#g)" opacity="0.13" transform="rotate(-20 1085 127)"/>
<ellipse cx="1088" cy="157" rx="23" ry="9.5" fill="url(#g)" opacity="0.26" transform="rotate(-28 1088 157)"/>
<ellipse cx="1093" cy="153" rx="11" ry="5" fill="url(#g)" opacity="0.17" transform="rotate(-28 1093 153)"/>
<ellipse cx="1078" cy="150" rx="29" ry="24" fill="url(#g)" opacity="0.16"/>
<ellipse cx="1065" cy="140" rx="15.7" ry="13.4" fill="url(#g)" opacity="0.12"/>
<ellipse cx="1102" cy="178" rx="12" ry="6.7" fill="url(#g)" opacity="0.19" transform="rotate(-15 1102 178)"/>
<ellipse cx="1124" cy="165" rx="5.6" ry="13.4" fill="url(#g)" opacity="0.25"/>
<ellipse cx="1110" cy="190" rx="10" ry="6" fill="url(#g)" opacity="0.09"/>
<ellipse cx="1034" cy="158" rx="18" ry="9" fill="url(#g)" opacity="0.17" transform="rotate(10 1034 158)"/>
<ellipse cx="1054" cy="167" rx="13.4" ry="10" fill="url(#g)" opacity="0.15" transform="rotate(30 1054 167)"/>
<ellipse cx="1045" cy="163" rx="26" ry="14" fill="url(#g)" opacity="0.09" transform="rotate(15 1045 163)"/>
<ellipse cx="1012" cy="202" rx="15.7" ry="9" fill="url(#g)" opacity="0.25" transform="rotate(35 1012 202)"/>
<ellipse cx="1008" cy="208" rx="10" ry="6.7" fill="url(#g)" opacity="0.18" transform="rotate(35 1008 208)"/>
<ellipse cx="1020" cy="196" rx="11" ry="6.7" fill="url(#g)" opacity="0.14"/>
<ellipse cx="1078" cy="208" rx="18" ry="10" fill="url(#g)" opacity="0.13" transform="rotate(30 1078 208)"/>
<ellipse cx="1088" cy="190" rx="10" ry="8" fill="url(#g)" opacity="0.08"/>
<ellipse cx="1070" cy="125" rx="62" ry="55" fill="url(#g)" opacity="0.0575"/>
<ellipse cx="1005" cy="150" rx="50" ry="38" fill="url(#g)" opacity="0.04"/>
<ellipse cx="1090" cy="60" rx="36" ry="30" fill="url(#g)" opacity="0.046"/>
<ellipse cx="1085" cy="95" rx="16" ry="11" fill="url(#g)" opacity="0.069"/>
<ellipse cx="1040" cy="40" rx="30" ry="20" fill="url(#g)" opacity="0.0345"/>
<ellipse cx="935" cy="110" rx="24" ry="30" fill="url(#g)" opacity="0.0345"/>
<ellipse cx="960" cy="160" rx="40" ry="20" fill="url(#g)" opacity="0.04"/>
<ellipse cx="1060" cy="215" rx="50" ry="20" fill="url(#g)" opacity="0.0345"/>
<ellipse cx="1000.5" cy="198.8" rx="18" ry="13" fill="url(#g)" opacity="0.42" transform="rotate(40 1000.5 198.8)"/>
<ellipse cx="999.8" cy="198.3" rx="12" ry="9.5" fill="url(#g)" opacity="0.8" transform="rotate(40 999.8 198.3)"/>
<ellipse cx="999.4" cy="198" rx="8" ry="6.6" fill="url(#g)" opacity="0.9" transform="rotate(40 999.4 198)"/>
<ellipse cx="999.2" cy="197.8" rx="4.6" ry="3.7" fill="#fff" transform="rotate(40 999.2 197.8)"/>
</g>
<ellipse cx="955" cy="228" rx="62" ry="30" fill="#09003a" opacity="0.6" filter="url(#bl6)"/>
<ellipse cx="1075" cy="235" rx="60" ry="14" fill="#09003a" opacity="0.45" filter="url(#bl6)"/>
<rect x="1036" y="19.8" width="81.8" height="5.2" fill="url(#cbar)"/>
<path d="M1039 19.9 H1036.2 V24.9 H1039" fill="none" stroke="#6a6480" stroke-width="0.5"/>
</g>
<g clip-path="url(#cc)"><g filter="url(#fc)">
<rect x="905" y="255" width="230" height="430" fill="#000"/>
<ellipse cx="998.5" cy="387" rx="13" ry="21" fill="url(#g)" opacity="0.18" transform="rotate(8 998.5 387)"/>
<ellipse cx="999" cy="388" rx="22" ry="38" fill="url(#g)" opacity="0.15"/>
<ellipse cx="997" cy="392" rx="8" ry="10" fill="url(#g)" opacity="0.07"/>
<ellipse cx="956.5" cy="366" rx="5.3" ry="13.4" fill="url(#g)" opacity="0.15"/>
<ellipse cx="955" cy="372" rx="13" ry="28" fill="url(#g)" opacity="0.08"/>
<ellipse cx="1024" cy="336" rx="7" ry="14.6" fill="url(#g)" opacity="0.14"/>
<ellipse cx="1018" cy="322" rx="22" ry="36" fill="url(#g)" opacity="0.086"/>
<ellipse cx="1000" cy="330" rx="18" ry="20" fill="url(#g)" opacity="0.046"/>
<ellipse cx="1029" cy="452" rx="9.4" ry="16.8" fill="url(#g)" opacity="0.19"/>
<ellipse cx="1024" cy="468" rx="22" ry="40" fill="url(#g)" opacity="0.098"/>
<ellipse cx="1010" cy="440" rx="10" ry="20" fill="url(#g)" opacity="0.0575"/>
<ellipse cx="1073" cy="617" rx="11.8" ry="25.8" fill="url(#g)" opacity="0.17"/>
<ellipse cx="1068" cy="607" rx="8" ry="14" fill="url(#g)" opacity="0.12"/>
<ellipse cx="1070" cy="622" rx="26" ry="42" fill="url(#g)" opacity="0.098"/>
<ellipse cx="1056" cy="612" rx="9" ry="15" fill="url(#g)" opacity="0.08"/>
<ellipse cx="1065" cy="507" rx="4" ry="9" fill="url(#g)" opacity="0.14"/>
<ellipse cx="1072" cy="520" rx="20" ry="44" fill="url(#g)" opacity="0.063"/>
<ellipse cx="1082" cy="508" rx="3.5" ry="8" fill="url(#g)" opacity="0.09"/>
<ellipse cx="960" cy="600" rx="36" ry="64" fill="url(#g)" opacity="0.0345"/>
<ellipse cx="1100" cy="470" rx="26" ry="54" fill="url(#g)" opacity="0.04"/>
<ellipse cx="940" cy="420" rx="22" ry="44" fill="url(#g)" opacity="0.0345"/>
<ellipse cx="1090" cy="400" rx="22" ry="44" fill="url(#g)" opacity="0.023"/>
<ellipse cx="960" cy="310" rx="30" ry="40" fill="url(#g)" opacity="0.0287"/>
<ellipse cx="1060" cy="300" rx="30" ry="30" fill="url(#g)" opacity="0.023"/>
<ellipse cx="1000.0" cy="500" rx="16" ry="64" fill="url(#g)" opacity="0.292"/>
<ellipse cx="1000.0" cy="530" rx="14" ry="52" fill="url(#g)" opacity="0.243"/>
<ellipse cx="1000.0" cy="550" rx="12" ry="36" fill="url(#g)" opacity="0.388"/>
<ellipse cx="1000.0" cy="558" rx="7.5" ry="22" fill="url(#g)" opacity="0.236"/>
<ellipse cx="1000.0" cy="574" rx="11" ry="38" fill="url(#g)" opacity="0.494"/>
<ellipse cx="1000.0" cy="592" rx="8" ry="24" fill="url(#g)" opacity="0.304"/>
<ellipse cx="1000.0" cy="548" rx="22" ry="66" fill="url(#g)" opacity="0.14"/>
<ellipse cx="1000.0" cy="558" rx="4.5" ry="13" fill="url(#g)" opacity="0.262"/>
</g></g>
<g fill="none" stroke="#e0387c" stroke-width="1.05">
<rect x="637.3" y="152" width="50.2" height="52.6"/>
<path d="M637.3 152 L912 12.6 M637.3 204.6 L912 250.3"/>
</g>
<path d="M605.2 74 V163" stroke="#b8babc" stroke-width="1" fill="none"/>
<path d="M662.5 205.5 V239.5" stroke="#c8c8c8" stroke-width="1.3" fill="none"/>
<rect x="112.8" y="225.3" width="110.4" height="4.9" fill="#f6e922"/>
<text x="167.8" y="254" text-anchor="middle" font-size="22" font-weight="bold" fill="#f4e61e">100 pc</text>
<text x="37.6" y="49.6" font-size="31" font-weight="bold" fill="#fff">a</text>
<text x="575.3" y="67.9" font-size="22" fill="#fff">Sgr A<tspan font-size="12" dy="-8">*</tspan></text>
<text x="590" y="260.8" font-size="22" fill="#fff">CO–0.40–0.22</text>
<path d="M929.3 197.6 H1125" stroke="#f0f0f6" stroke-width="1.05" stroke-dasharray="9 8.56" fill="none"/>
<ellipse cx="976" cy="87.7" rx="57" ry="37" transform="rotate(40 976 87.7)" fill="none" stroke="#a5942e" stroke-width="1.65" opacity="0.88"/>
<ellipse cx="1033.5" cy="186.4" rx="38" ry="28.5" transform="rotate(-60 1033.5 186.4)" fill="none" stroke="#a5942e" stroke-width="1.65" opacity="0.88"/>
<text x="961" y="39.1" font-size="13.8" textLength="36.6" lengthAdjust="spacingAndGlyphs" fill="#d8c81c">shell 1</text>
<text x="1012.3" y="234.7" font-size="13.8" textLength="37.4" lengthAdjust="spacingAndGlyphs" fill="#d8c81c">shell 2</text>
<text x="932.6" y="49" font-size="31" font-weight="bold" fill="#fff">b</text>
<text x="932" y="294.8" font-size="31" font-weight="bold" fill="#fff">c</text>
<g fill="none" stroke="#4a4040">
<path d="M912.4 11.5 V251.2 M1125.8 11.5 V251.2" stroke-width="1.5"/>
<path d="M911.7 12.6 H1126.5 M911.7 250.2 H1126.5" stroke-width="2"/>
<path d="M912.4 259.2 V679 M1125.8 259.2 V679" stroke-width="1.5"/>
<path d="M911.7 678.2 H1126.5" stroke-width="1.65" opacity="0.88"/>
</g>
<path d="M911.7 260.3 H1126.5" stroke="#c8c8c8" stroke-width="2.2" fill="none"/>
<path d="M913.4 11.6 v3.2 M913.4 251 v-3.2 M927.5 11.6 v6 M927.5 251 v-6 M941.6 11.6 v3.2 M941.6 251 v-3.2 M955.7 11.6 v3.2 M955.7 251 v-3.2 M969.9 11.6 v3.2 M969.9 251 v-3.2 M984.0 11.6 v3.2 M984.0 251 v-3.2 M998.1 11.6 v6 M998.1 251 v-6 M1012.2 11.6 v3.2 M1012.2 251 v-3.2 M1026.3 11.6 v3.2 M1026.3 251 v-3.2 M1040.5 11.6 v3.2 M1040.5 251 v-3.2 M1054.6 11.6 v3.2 M1054.6 251 v-3.2 M1068.7 11.6 v6 M1068.7 251 v-6 M1082.8 11.6 v3.2 M1082.8 251 v-3.2 M1096.9 11.6 v3.2 M1096.9 251 v-3.2 M1111.1 11.6 v3.2 M1111.1 251 v-3.2 M1125.2 11.6 v3.2 M1125.2 251 v-3.2 M912.8 28.3 h3.2 M1125.4 28.3 h-3.2 M912.8 42.5 h6 M1125.4 42.5 h-6 M912.8 56.7 h3.2 M1125.4 56.7 h-3.2 M912.8 70.8 h3.2 M1125.4 70.8 h-3.2 M912.8 85.0 h3.2 M1125.4 85.0 h-3.2 M912.8 99.1 h3.2 M1125.4 99.1 h-3.2 M912.8 113.3 h6 M1125.4 113.3 h-6 M912.8 127.5 h3.2 M1125.4 127.5 h-3.2 M912.8 141.6 h3.2 M1125.4 141.6 h-3.2 M912.8 155.8 h3.2 M1125.4 155.8 h-3.2 M912.8 169.9 h3.2 M1125.4 169.9 h-3.2 M912.8 184.1 h6 M1125.4 184.1 h-6 M912.8 198.3 h3.2 M1125.4 198.3 h-3.2 M912.8 212.4 h3.2 M1125.4 212.4 h-3.2 M912.8 226.6 h3.2 M1125.4 226.6 h-3.2 M912.8 240.7 h3.2 M1125.4 240.7 h-3.2 M913.4 678 v-3.2 M927.5 678 v-6 M941.6 678 v-3.2 M955.7 678 v-3.2 M969.9 678 v-3.2 M984.0 678 v-3.2 M998.1 678 v-6 M1012.2 678 v-3.2 M1026.3 678 v-3.2 M1040.5 678 v-3.2 M1054.6 678 v-3.2 M1068.7 678 v-6 M1082.8 678 v-3.2 M1096.9 678 v-3.2 M1111.1 678 v-3.2 M1125.2 678 v-3.2 M912.8 261.3 h6 M1125.4 261.3 h-6 M912.8 277.9 h3.2 M1125.4 277.9 h-3.2 M912.8 294.5 h3.2 M1125.4 294.5 h-3.2 M912.8 311.1 h3.2 M1125.4 311.1 h-3.2 M912.8 327.7 h3.2 M1125.4 327.7 h-3.2 M912.8 344.3 h6 M1125.4 344.3 h-6 M912.8 360.9 h3.2 M1125.4 360.9 h-3.2 M912.8 377.5 h3.2 M1125.4 377.5 h-3.2 M912.8 394.1 h3.2 M1125.4 394.1 h-3.2 M912.8 410.7 h3.2 M1125.4 410.7 h-3.2 M912.8 427.3 h6 M1125.4 427.3 h-6 M912.8 443.9 h3.2 M1125.4 443.9 h-3.2 M912.8 460.5 h3.2 M1125.4 460.5 h-3.2 M912.8 477.1 h3.2 M1125.4 477.1 h-3.2 M912.8 493.7 h3.2 M1125.4 493.7 h-3.2 M912.8 510.3 h6 M1125.4 510.3 h-6 M912.8 526.9 h3.2 M1125.4 526.9 h-3.2 M912.8 543.5 h3.2 M1125.4 543.5 h-3.2 M912.8 560.1 h3.2 M1125.4 560.1 h-3.2 M912.8 576.7 h3.2 M1125.4 576.7 h-3.2 M912.8 593.3 h6 M1125.4 593.3 h-6 M912.8 609.9 h3.2 M1125.4 609.9 h-3.2 M912.8 626.5 h3.2 M1125.4 626.5 h-3.2 M912.8 643.1 h3.2 M1125.4 643.1 h-3.2 M912.8 659.7 h3.2 M1125.4 659.7 h-3.2 M912.8 676.3 h6 M1125.4 676.3 h-6" stroke="#f0f0f4" stroke-width="1.1" fill="none"/>
<text class="se" transform="translate(1147.6 43.3) rotate(-90)" text-anchor="middle" >0</text>
<text class="se" transform="translate(1147.6 114.7) rotate(-90)" text-anchor="middle" >–0.1</text>
<text class="se" transform="translate(1147.6 185.3) rotate(-90)" text-anchor="middle" >–0.2</text>
<text class="se" transform="translate(1147.6 262.7) rotate(-90)" text-anchor="middle" >100</text>
<text class="se" transform="translate(1147.6 345.6) rotate(-90)" text-anchor="middle" >50</text>
<text class="se" transform="translate(1147.6 428) rotate(-90)" text-anchor="middle" >0</text>
<text class="se" transform="translate(1147.6 509) rotate(-90)" text-anchor="middle" >–50</text>
<text class="se" transform="translate(1147.6 590) rotate(-90)" text-anchor="middle" >–100</text>
<text class="se" transform="translate(1147.6 673) rotate(-90)" text-anchor="middle" >–150</text>
<text class="se" x="926.5" y="700" text-anchor="middle">–0.3</text>
<text class="se" x="996.8" y="700" text-anchor="middle">–0.4</text>
<text class="se" x="1067.5" y="700" text-anchor="middle">–0.5</text>
<text class="sa" x="999" y="728.5" font-size="22"><tspan font-style="italic">l</tspan><tspan dx="10">[°]</tspan></text>
<text class="sa" transform="translate(1178 158.5) rotate(-90)" font-size="22"><tspan font-style="italic">b</tspan><tspan dx="10">[°]</tspan></text>
<text class="sa" transform="translate(1177 534) rotate(-90)" font-size="22"><tspan font-style="italic">V</tspan><tspan font-size="12" dy="8" dx="1" letter-spacing="-0.8">LSR</tspan><tspan dy="-8" dx="14">[km s</tspan><tspan font-size="13" dy="-8">−1</tspan><tspan dy="8">]</tspan></text>
</svg></body></html>
